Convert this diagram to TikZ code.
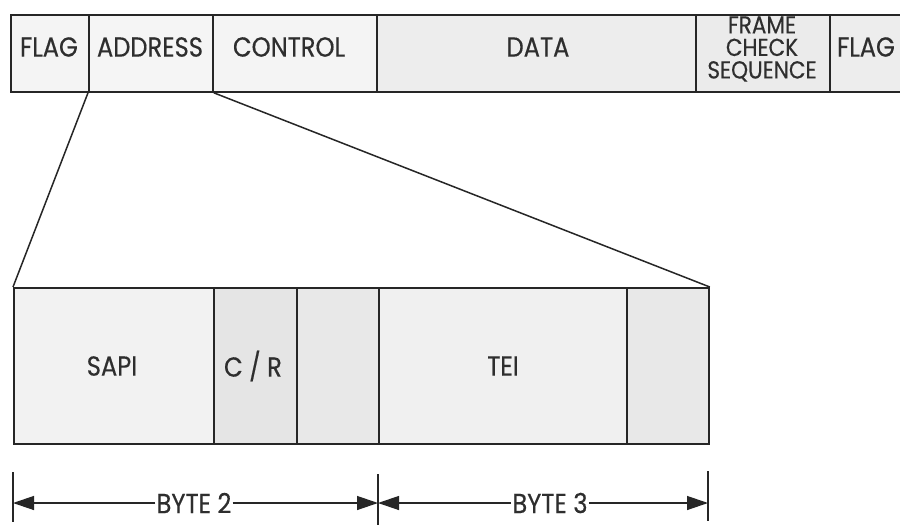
\documentclass[tikz,border=0pt]{standalone}
\usepackage{fontspec}
\setmainfont{Poppins}[FakeStretch=0.88, FakeBold=0.4]
\usetikzlibrary{arrows.meta}
\begin{document}
\begin{tikzpicture}[x=1pt,y=-1pt,
  field/.style={draw=black!85, line width=1.8pt, inner sep=0pt, anchor=north west},
  lab/.style={inner sep=0pt, text=black!82, font=\fontsize{27.5}{22}\selectfont},
  conn/.style={draw=black!85, line width=1.5pt},
  tick/.style={draw=black!85, line width=1.2pt},
  dim/.style={draw=black!85, line width=1.3pt, -{Triangle[length=21pt,width=14pt]}}
]
\clip (0,0) rectangle (900,525);
\fill[white] (0,0) rectangle (900,525);
% top frame
\node[field, fill=gray!9,  minimum width=78pt,  minimum height=77pt] (flagA) at (10,14) {};
\node[field, fill=gray!8,  minimum width=124pt, minimum height=77pt] (addr)  at (88,14) {};
\node[field, fill=gray!9,  minimum width=164pt, minimum height=77pt] (ctrl)  at (212,14) {};
\node[field, fill=gray!14, minimum width=319pt, minimum height=77pt] (data)  at (376,14) {};
\node[field, fill=gray!16, minimum width=134pt, minimum height=77pt] (fcs)   at (695,14) {};
\node[field, fill=gray!14, minimum width=90pt,  minimum height=77pt] (flagB) at (829,14) {};
\node[lab] (tflagA) at (49,47) {FLAG};
\node[lab] (taddr) at (150,47) {ADDRESS};
\node[lab] (tctrl) at (289,47) {CONTROL};
\node[lab] (tdata) at (538,47) {DATA};
\node[lab, align=center, font=\fontsize{24.5}{22.5}\selectfont] (tfcs) at (762,49) {FRAME\\CHECK\\SEQUENCE};
\node[lab] (tflagB) at (866,47) {FLAG};
% lower frame
\node[field, fill=gray!10, minimum width=200pt, minimum height=156pt] (sapi) at (13,287) {};
\node[field, fill=gray!20, minimum width=83pt,  minimum height=156pt] (cr)   at (213,287) {};
\node[field, fill=gray!18, minimum width=82pt,  minimum height=156pt] (ea0)  at (296,287) {};
\node[field, fill=gray!12, minimum width=248pt, minimum height=156pt] (tei)  at (378,287) {};
\node[field, fill=gray!18, minimum width=82pt,  minimum height=156pt] (ea1)  at (626,287) {};
\node[lab] (tsapi) at (112,366) {SAPI};
\node[lab] (tcr) at (253,366) {C / R};
\node[lab] (ttei) at (503,366) {TEI};
% expansion lines
\draw[conn] (addr.south west) -- (sapi.north west);
\draw[conn] (addr.south east) -- (ea1.north east);
% dimension
\coordinate (k1a) at (13,472); \coordinate (k1b) at (13,522);
\coordinate (k2a) at (378,474); \coordinate (k2b) at (378,525);
\coordinate (k3a) at (708,471); \coordinate (k3b) at (708,521);
\draw[tick] (k1a) -- (k1b);
\draw[tick] (k2a) -- (k2b);
\draw[tick] (k3a) -- (k3b);
\coordinate (d1) at (13,503);
\coordinate (d2) at (378,503);
\coordinate (d3) at (708,503);
\node[lab, fill=white, inner xsep=1pt] (b2) at (194,503) {BYTE 2};
\node[lab, fill=white, inner xsep=1pt] (b3) at (550,503) {BYTE 3};
\draw[dim] (b2.west) -- (d1);
\draw[dim] (b2.east) -- (d2);
\draw[dim] (b3.west) -- (d2);
\draw[dim] (b3.east) -- (d3);
\end{tikzpicture}
\end{document}
